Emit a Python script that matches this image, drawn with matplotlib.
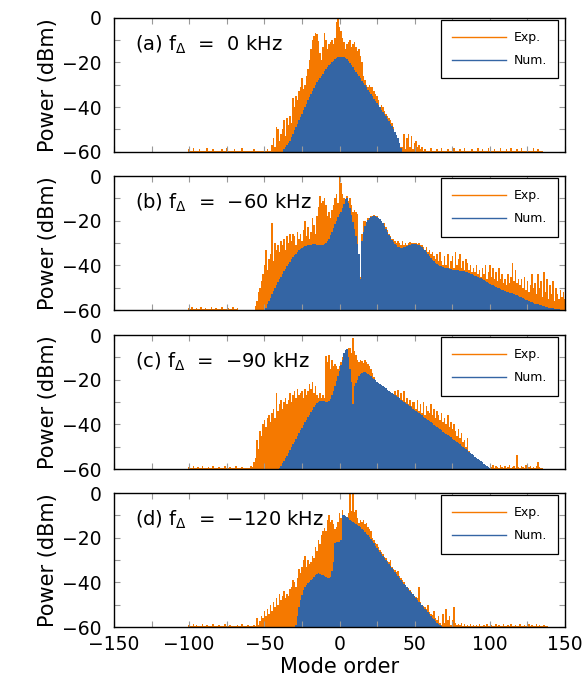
import numpy as np
import matplotlib.pyplot as plt
from matplotlib.lines import Line2D
from matplotlib.ticker import MultipleLocator

plt.rcParams['font.family'] = ['DejaVu Sans']
plt.rcParams['mathtext.default'] = 'regular'

# power per comb mode in dBm
# (a) f_delta = 0 kHz
exp_a_start = -100
exp_a = [
    -59, -59.5, -59.5, -58.5, -59.5, -59.5, -59.5, -59, -59.5, -59.5,
    -59.5, -59.5, -58.5, -59.5, -59.5, -59.5, -59, -59.5, -59.5, -59.5,
    -59.5, -59.5, -59, -59.5, -59.5, -58.5, -59.5, -59.5, -59.5, -59.5,
    -59, -59.5, -59.5, -59.5, -59.5, -58.5, -59.5, -59.5, -59.5, -59.5,
    -59.5, -59.5, -59.5, -59, -59.5, -59.5, -59.5, -59.5, -59.5, -59.5,
    -59.5, -59.5, -59, -59.5, -59.5, -57, -54, -58, -49, -50,
    -55, -52, -50, -46, -53, -45, -48, -44, -47, -36,
    -40, -35, -37, -33, -31, -27, -32, -30, -26, -23,
    -19, -14, -10, -8, -7, -7.5, -10.5, -16, -19, -13,
    -7, -10, -14, -12, -11, -10, -12, -9, -2, 0,
    -4, -6, -9, -11, -14, -12, -11, -10, -13, -12,
    -11, -13, -15, -14, -17, -20, -26, -28, -30, -31,
    -30, -31, -31, -33, -34, -35, -37, -40, -39, -40,
    -42, -43, -44, -45, -46, -47, -49, -53, -54, -57,
    -57, -58, -58, -52, -59, -54, -52, -58, -53, -59,
    -56, -55, -58, -57, -59, -58, -59.5, -59, -59.5, -59.5,
    -59.5, -58.5, -59.5, -59.5, -59.5, -59, -59.5, -59.5, -58.5, -59.5,
    -59.5, -59.5, -59, -59.5, -59.5, -59.5, -58.5, -59.5, -59.5, -59.5,
    -59, -59.5, -59.5, -58.5, -59.5, -59.5, -59.5, -59.5, -59, -59.5,
    -59.5, -59.5, -58.5, -59.5, -59.5, -59, -59.5, -59.5, -59.5, -58.5,
    -59.5, -59.5, -59.5, -59, -59.5, -59.5, -59.5, -58.5, -59.5, -59.5,
    -59.5, -59, -59.5, -59.5, -58.5, -59.5, -59.5, -59.5, -59, -59.5,
    -59.5, -58.5, -59.5, -59.5, -59.5, -59, -59.5, -59.5, -59.5, -58.5,
    -59.5, -59.5, -59, -59.5, -59.5, -59.5,
]
num_a_start = -37
num_a = [
    -59, -58, -57, -56, -55, -53.5, -52, -50.5, -49, -47.5,
    -46, -44.5, -43, -41.5, -40, -38.5, -37, -35.5, -34, -33,
    -31.5, -30, -29, -28, -27, -26, -25, -24, -23, -22,
    -21.4, -20.6, -19.9, -19.2, -18.6, -18.1, -17.7, -17.5, -17.4, -17.4,
    -17.6, -17.9, -18.4, -19.2, -20.2, -21.2, -22.2, -23.2, -24.2, -25.2,
    -26.2, -27.2, -28.2, -29.2, -30.2, -31.2, -32.2, -33.2, -34.2, -35.2,
    -36.2, -37.2, -38.2, -39.2, -40.2, -41.2, -42.2, -43.2, -44.2, -45.2,
    -46.2, -47.4, -48.6, -49.8, -51, -52.5, -54, -56, -58.5,
]

# (b) f_delta = -60 kHz
exp_b_start = -100
exp_b = [
    -59, -59.5, -58.5, -59.5, -59.5, -59, -59.5, -59.5, -58.5, -59.5,
    -59.5, -59, -59.5, -59.5, -59.5, -58.5, -59.5, -59.5, -59, -59.5,
    -59.5, -59.5, -58.5, -59.5, -59.5, -59.5, -59, -59.5, -59.5, -58.5,
    -59.5, -59.5, -59, -60, -60, -60, -60, -60, -60, -60,
    -60, -60, -60, -60, -58, -56, -52, -50, -47, -44,
    -40, -33, -42, -37, -35, -21, -38, -30, -33, -31,
    -34, -29, -31, -28, -33, -27, -30, -26, -29, -26,
    -27, -31, -25, -28, -26, -29, -24, -20, -27, -23,
    -28, -25, -19, -22, -26, -18, -14, -9, -12, -11,
    -10, -13, -18, -16, -19, -15, -13, -10, -8, -12,
    0, -3, -8, -10, -11, -9, -11, -10, -13, -16,
    -15, -16, -17, -37, -45, -26, -20, -20, -21, -19,
    -19, -18, -18, -17.5, -18, -18, -19, -19.5, -20, -21,
    -21, -23, -24, -26, -27, -28, -28, -29, -30, -29,
    -30, -31, -29, -31, -30, -31, -30, -29.5, -30, -30,
    -30, -30, -30.5, -30, -31, -31, -32, -33, -32, -34,
    -33, -35, -34, -36, -37, -35, -38, -34, -38, -40,
    -36, -40, -35, -41, -38, -36, -41, -34, -40, -37,
    -35, -41, -38, -42, -37, -39, -42, -40, -43, -41,
    -43, -40, -44, -42, -45, -41, -44, -40, -46, -43,
    -40, -45, -41, -46, -43, -47, -41, -46, -44, -48,
    -46, -49, -44, -48, -45, -39, -47, -42, -48, -46,
    -49, -46, -50, -45, -51, -47, -52, -49, -44, -50,
    -48, -53, -44, -50, -47, -54, -43, -52, -46, -55,
    -49, -53, -47, -56, -50, -53, -55, -51, -54, -52,
    -55,
]
num_b_start = -49
num_b = [
    -59, -57.5, -56, -54.5, -53, -51.5, -50, -48.7, -47.4, -46.2,
    -45, -43.8, -42.6, -41.5, -40.4, -39.3, -38.3, -37.3, -36.4, -35.5,
    -34.7, -34, -33.3, -32.7, -32.2, -31.8, -31.5, -31.2, -31, -30.8,
    -30.7, -30.6, -30.6, -30.6, -30.7, -30.8, -30.9, -30.9, -30.8, -30.5,
    -30, -29, -28, -26.5, -25, -23.2, -21.5, -20, -18.5, -17,
    -16, -14.5, -12.5, -10.5, -10, -12, -14.5, -17.5, -20.5, -23.5,
    -27, -30.5, -35, -46, -29, -25, -22.5, -20.5, -19.5, -18.8,
    -18.4, -18.1, -18, -18, -18.2, -18.6, -19.2, -20, -21, -22.2,
    -23.5, -25, -26.3, -27.5, -28.6, -29.5, -30.3, -31, -31.6, -32,
    -32.2, -32.2, -32, -31.8, -31.4, -31, -30.7, -30.5, -30.4, -30.4,
    -30.5, -30.7, -31, -31.4, -31.9, -32.5, -33.2, -34, -34.9, -35.8,
    -36.7, -37.5, -38.2, -38.8, -39.3, -39.7, -40.1, -40.4, -40.7, -41,
    -41.2, -41.4, -41.6, -41.8, -41.9, -42, -42.1, -42.2, -42.3, -42.4,
    -42.5, -42.6, -42.7, -42.9, -43.1, -43.4, -43.7, -44, -44.3, -44.6,
    -44.9, -45.2, -45.5, -45.8, -46.2, -46.6, -47, -47.4, -47.8, -48.2,
    -48.6, -49, -49.4, -49.7, -50, -50.3, -50.6, -50.9, -51.2, -51.5,
    -51.8, -52, -52.2, -52.4, -52.6, -52.9, -53.2, -53.5, -53.8, -54.1,
    -54.4, -54.7, -55, -55.3, -55.6, -55.9, -56.2, -56.5, -56.8, -57.1,
    -57.3, -57.5, -57.7, -57.9, -58.1, -58.3, -58.5, -58.7, -58.9, -59.1,
    -59.2, -59.3, -59.4, -59.5, -59.6, -59.7, -59.8, -59.9, -60, -60,
]

# (c) f_delta = -90 kHz
exp_c_start = -100
exp_c = [
    -59, -59.5, -59.5, -58.5, -59.5, -59.5, -59, -59.5, -59.5, -58.5,
    -59.5, -59.5, -59.5, -59, -59.5, -59.5, -58.5, -59.5, -59.5, -59.5,
    -59, -59.5, -59.5, -59.5, -58.5, -59.5, -59.5, -59, -59.5, -59.5,
    -59.5, -58.5, -59.5, -59.5, -59.5, -59, -59.5, -59.5, -59.5, -59.5,
    -59.5, -58.5, -59, -57, -55, -47, -51, -43, -45, -40,
    -38, -41, -37, -36, -39, -35, -33, -37, -26, -34,
    -31, -29, -33, -30, -28, -31, -29, -26, -30, -27,
    -25, -28, -24, -27, -26, -25, -28, -24, -27, -25,
    -22, -24, -21, -26, -23, -27, -28, -26, -28, -27,
    -28, -9.5, -12, -9, -15, -11, -14, -13, -14, -15,
    -14, -12, -10, -8, -7, -7, -6, -6, -8, -1.5,
    -7, -9, -11, -12, -11, -11.5, -12.5, -11, -12, -13,
    -14, -15, -17, -19, -20.5, -21, -21.5, -22, -22.5, -23,
    -23.5, -24, -24.5, -25, -25.5, -26, -26.5, -25, -27, -24.5,
    -28, -26, -29, -25, -30, -28, -31, -29, -32, -30,
    -30, -33, -29, -34, -31, -35, -30, -36, -32, -34,
    -35, -31, -36, -33, -37, -34, -36, -38, -35, -39,
    -37, -40, -36, -41, -39, -42, -40, -43, -45, -42,
    -46, -44, -48, -47, -50, -46, -52, -54, -57, -59,
    -59.5, -59.5, -59, -59.5, -59.5, -59.5, -59, -59.5, -59.5, -59.5,
    -59.5, -59, -58, -59.5, -58.5, -59, -59.5, -58, -59, -59.5,
    -58.5, -59.5, -59, -58, -59.5, -59, -58.5, -59.5, -53.5, -59,
    -59.5, -58.5, -59, -59.5, -58, -59.5, -59, -58.5, -59.5, -59,
    -59.5, -58.5, -57, -59, -59.5, -59.5,
]
num_c_start = -40
num_c = [
    -59.5, -58.5, -57.5, -56.3, -55.1, -54, -52.8, -51.6, -50.3, -49,
    -47.7, -46.4, -45.1, -43.9, -42.7, -41.5, -40.3, -39.1, -38, -36.9,
    -35.8, -34.6, -33.4, -32.2, -31.2, -30.4, -29.9, -29.6, -29.5, -29.5,
    -29.6, -29.8, -30, -29.5, -28.5, -27, -25, -22.8, -20.5, -18.5,
    -16, -13.5, -11, -8, -6.5, -6.3, -10, -15, -21, -31,
    -23, -21.5, -20, -18.5, -17.5, -16.8, -16.4, -16.5, -16.9, -17.4,
    -17.9, -18.5, -19.1, -19.7, -20.3, -20.9, -21.4, -21.9, -22.4, -22.9,
    -23.4, -23.9, -24.4, -24.9, -25.4, -25.9, -26.4, -26.9, -27.4, -27.9,
    -28.4, -28.9, -29.4, -29.9, -30.4, -30.9, -31.4, -31.9, -32.4, -32.9,
    -33.4, -33.9, -34.4, -35, -35.5, -36, -36.5, -37, -37.5, -38,
    -38.6, -39.1, -39.6, -40.1, -40.6, -41.1, -41.6, -42.1, -42.6, -43.2,
    -43.7, -44.2, -44.8, -45.3, -45.8, -46.4, -46.9, -47.4, -48, -48.5,
    -49, -49.6, -50.1, -50.6, -51.2, -51.7, -52.2, -52.8, -53.3, -53.8,
    -54.4, -54.9, -55.4, -56, -56.5, -57, -57.6, -58.1, -58.6, -59.1,
    -59.6,
]

# (d) f_delta = -120 kHz
exp_d_start = -100
exp_d = [
    -59, -59.5, -59.5, -58.5, -59.5, -59, -59.5, -59.5, -59.5, -58.5,
    -59.5, -59.5, -59, -59.5, -59.5, -59.5, -58.5, -59.5, -59.5, -59.5,
    -59, -59.5, -59.5, -59.5, -58.5, -59.5, -59.5, -59, -59.5, -59.5,
    -59.5, -59.5, -59, -59.5, -59.5, -58.5, -59.5, -59.5, -59.5, -59,
    -59.5, -59.5, -59.5, -59, -59.5, -56, -59, -57.5, -55, -56,
    -53, -55, -52, -54, -50, -53, -49, -51, -47, -50,
    -45, -48, -46, -44, -47, -45, -46, -43, -42, -39,
    -40, -42, -38, -34, -36, -33, -30, -28, -33, -30,
    -32, -31, -28, -29, -24, -26, -21, -23, -19, -17,
    -15.5, -17, -12, -10, -13, -12, -14, -16, -15, -13,
    -9, -11, -7.5, -12, -14, -11, -9, 0, -8, 0,
    -8.5, -7.5, -11, -13.5, -12, -13, -12, -14, -13.5, -15,
    -16, -17, -20, -21, -22.5, -23, -24, -25.5, -26.5, -27.5,
    -28.5, -29, -30.5, -31, -30, -33, -34, -34.5, -35.5, -35,
    -37, -38, -39, -40, -41, -42, -42.5, -43.5, -44.5, -45,
    -46, -46.5, -47, -42, -49, -50, -50.5, -51, -52, -50,
    -53.5, -54, -54.5, -53, -56, -57, -55, -58, -59, -54,
    -58, -52, -57, -55, -59, -57, -51, -58, -59, -58.5,
    -59, -58, -59.5, -58.5, -59.5, -59, -59.5, -58.5, -59.5, -59,
    -59.5, -59, -59.5, -58.5, -59.5, -59.5, -59, -59.5, -58.5, -59.5,
    -59.5, -59, -59.5, -59.5, -58.5, -59.5, -59, -59.5, -59.5, -58.5,
    -59.5, -59.5, -59, -59.5, -58.5, -59.5, -59.5, -59, -59.5, -59.5,
    -58.5, -59.5, -59.5, -59, -59.5, -59.5, -58.5, -59.5, -59, -59.5,
    -59.5, -58.5, -59.5, -59, -59.5, -59.5, -59, -59.5, -59.5,
]
num_d_start = -29
num_d = [
    -59, -55, -51, -48, -45.5, -43.4, -42.2, -41.2, -40.4, -39.7,
    -39, -38.3, -37.5, -36.8, -36.2, -36, -36.2, -36.5, -36.8, -37.2,
    -37.8, -38.2, -38, -37.5, -35, -31, -22.5, -22, -21.8, -22,
    -21, -10, -10, -10.4, -10.9, -11.4, -11.9, -12.4, -12.9, -13.4,
    -13.9, -14.4, -14.9, -15.4, -16, -16.7, -17.4, -18.2, -19, -19.9,
    -20.8, -21.7, -22.6, -23.5, -24.4, -25.3, -26.2, -27.1, -28, -28.9,
    -29.8, -30.7, -31.6, -32.5, -33.4, -34.3, -35.2, -36.1, -37, -37.9,
    -38.8, -39.7, -40.6, -41.4, -42.2, -43, -43.8, -44.6, -45.4, -46.2,
    -47, -47.8, -48.6, -49.4, -50.2, -51, -51.8, -52.6, -53.4, -54.2,
    -55, -55.8, -56.6, -57.4, -58.2, -58.8, -59.3, -59.6, -59.8,
]

panel_labels = [
    '(a) f$_{\\Delta}$  =  0 kHz',
    '(b) f$_{\\Delta}$  =  \u221260 kHz',
    '(c) f$_{\\Delta}$  =  \u221290 kHz',
    '(d) f$_{\\Delta}$  =  \u2212120 kHz',
]

panels = [
    (exp_a_start, exp_a, num_a_start, num_a),
    (exp_b_start, exp_b, num_b_start, num_b),
    (exp_c_start, exp_c, num_c_start, num_c),
    (exp_d_start, exp_d, num_d_start, num_d),
]

orange = '#f57900'
blue = '#3465a4'
floor = -60

fig = plt.figure(figsize=(5.84, 6.86), dpi=100)
bottoms = [0.7789, 0.5481, 0.3163, 0.0860]

for i, (es, ev, ns, nv) in enumerate(panels):
    ax = fig.add_axes([0.1952, bottoms[i], 0.7723, 0.1953])
    ev = np.array(ev)
    nv = np.array(nv)
    ex = np.arange(es, es + len(ev))
    nx = np.arange(ns, ns + len(nv))
    ax.bar(ex, ev - floor, bottom=floor, width=1.0, color=orange,
           linewidth=0, zorder=1)
    ax.bar(nx, nv - floor, bottom=floor, width=1.0, color=blue,
           linewidth=0, zorder=1.1)

    ax.set_xlim(-150, 150)
    ax.set_ylim(-60, 0)
    ax.xaxis.set_major_locator(MultipleLocator(50))
    ax.xaxis.set_minor_locator(MultipleLocator(25))
    ax.yaxis.set_major_locator(MultipleLocator(20))
    ax.yaxis.set_minor_locator(MultipleLocator(10))
    ax.tick_params(which='both', direction='in', top=True, right=True,
                   color='0.6', length=4, width=0.8, labelsize=13.5)
    ax.tick_params(axis='y', pad=9)
    ax.tick_params(axis='x', pad=6)
    if i < 3:
        ax.tick_params(labelbottom=False)
    for s in ax.spines.values():
        s.set_linewidth(1.0)

    ax.set_ylabel('Power (dBm)', fontsize=15, labelpad=3)
    ax.text(0.047, 0.80, panel_labels[i], transform=ax.transAxes,
            fontsize=14, va='center', ha='left')

    handles = [Line2D([], [], color=orange, lw=1.0),
               Line2D([], [], color=blue, lw=1.0)]
    leg = ax.legend(handles, ['Exp.', 'Num.'], loc='upper right',
                    bbox_to_anchor=(0.985, 0.985), borderaxespad=0,
                    fontsize=9, fancybox=False, framealpha=1,
                    edgecolor='black', handlelength=4.3,
                    borderpad=0.9, labelspacing=0.8, handletextpad=0.6)
    leg.get_frame().set_linewidth(0.9)
    leg.set_zorder(5)

    if i == 3:
        ax.set_xlabel('Mode order', fontsize=15, labelpad=2)

fig.savefig('out.png', dpi=100)
